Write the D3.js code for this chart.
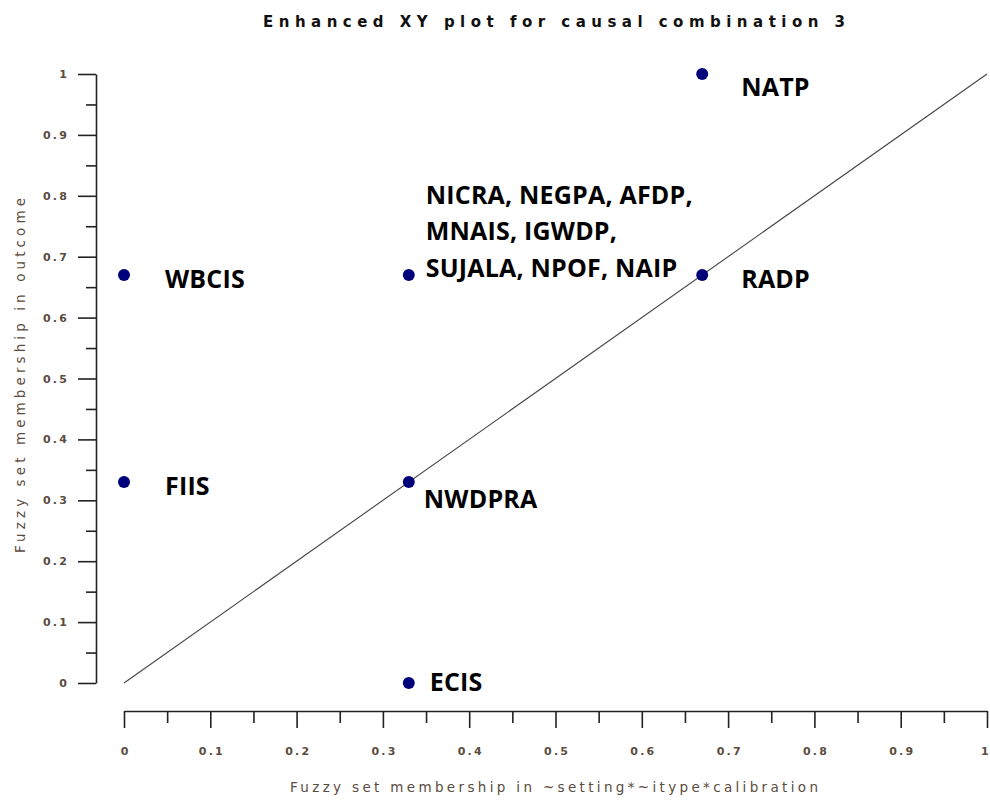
<!DOCTYPE html>
<html>
<head>
<meta charset="utf-8">
<script src="https://cdn.jsdelivr.net/npm/d3@7"></script>
<style>
  html, body { margin: 0; padding: 0; background: #fff; }
  svg { display: block; }
</style>
</head>
<body>
<svg id="chart" width="990" height="802"></svg>
<script>
// Cases and their fuzzy-set memberships
const caseLabels = [
  ["WBCIS"],
  ["FIIS"],
  ["NICRA, NEGPA, AFDP,", "MNAIS, IGWDP,", "SUJALA, NPOF, NAIP"],
  ["NWDPRA"],
  ["ECIS"],
  ["NATP"],
  ["RADP"]
];
const conditionValues = [0, 0, 0.33, 0.33, 0.33, 0.67, 0.67];
const outcomeValues   = [0.67, 0.33, 0.67, 0.33, 0, 1, 0.67];

const majorTicks = [0, 0.1, 0.2, 0.3, 0.4, 0.5, 0.6, 0.7, 0.8, 0.9, 1];
const minorTicks = [0.05, 0.15, 0.25, 0.35, 0.45, 0.55, 0.65, 0.75, 0.85, 0.95];

const titleText = "Enhanced XY plot for causal combination 3";
const xTitleText = "Fuzzy set membership in ~setting*~itype*calibration";
const yTitleText = "Fuzzy set membership in outcome";

// Label placement relative to each dot (dx, dy of first baseline)
const labelOffsets = [
  [41, 13], [41, 13], [17, -71], [15, 26], [21, 8], [39, 22], [39, 13]
];

const svg = d3.select("#chart");
const x = d3.scaleLinear().domain([0, 1]).range([124, 987]);
const y = d3.scaleLinear().domain([0, 1]).range([683, 74]);

const axisColor = "#222";
const textColor = "#5a4c40";
const tickFont = "DejaVu Sans, Verdana, sans-serif";
const fmt = d => d === 0 || d === 1 ? d3.format("d")(d) : d3.format(".1f")(d);

// Y axis: vertical line at x=96, ticks pointing left
const yAxisX = 96;
const gy = svg.append("g").attr("transform", `translate(${yAxisX},0)`);
gy.call(d3.axisLeft(y).tickValues(majorTicks).tickSize(18).tickSizeOuter(0).tickFormat(fmt));
gy.append("g").call(d3.axisLeft(y).tickValues(minorTicks).tickSize(10).tickFormat(""))
  .select(".domain").remove();

// X axis: horizontal line at y=711, ticks pointing down
const xAxisY = 711;
const gx = svg.append("g").attr("transform", `translate(0,${xAxisY})`);
gx.call(d3.axisBottom(x).tickValues(majorTicks).tickSize(17).tickSizeOuter(0).tickFormat(fmt));
gx.append("g").call(d3.axisBottom(x).tickValues(minorTicks).tickSize(12).tickFormat(""))
  .select(".domain").remove();

svg.selectAll(".domain, .tick line").attr("stroke", axisColor).attr("stroke-width", 1.6);
svg.selectAll(".tick text")
  .attr("fill", textColor)
  .attr("font-family", tickFont)
  .attr("font-weight", "bold")
  .attr("font-size", 11)
  .attr("letter-spacing", 2.2);
gy.selectAll(".tick text").attr("x", -27);
gx.selectAll(".tick text").attr("y", 36).attr("dx", 1.1);
// keep the last x label inside the frame
gx.selectAll(".tick text").filter(d => d === 1).attr("dx", -1.5);

// Diagonal reference line
svg.append("line")
  .attr("x1", x(0)).attr("y1", y(0))
  .attr("x2", x(1)).attr("y2", y(1))
  .attr("stroke", "#444").attr("stroke-width", 1.1);

// Case dots
const cases = caseLabels.map((lines, i) => ({
  lines, cx: conditionValues[i], cy: outcomeValues[i], off: labelOffsets[i]
}));

svg.append("g").selectAll("circle").data(cases).join("circle")
  .attr("cx", d => x(d.cx)).attr("cy", d => y(d.cy))
  .attr("r", 6).attr("fill", "#00007a");

// Case labels
const labels = svg.append("g").selectAll("text").data(cases).join("text")
  .attr("x", d => x(d.cx) + d.off[0])
  .attr("y", d => y(d.cy) + d.off[1])
  .attr("font-family", "Open Sans, Lato, sans-serif")
  .attr("font-weight", "bold")
  .attr("font-size", 25)
  .attr("letter-spacing", 0.2)
  .attr("fill", "#000");
labels.selectAll("tspan").data(d => d.lines.map(t => ({ t, x: x(d.cx) + d.off[0] }))).join("tspan")
  .attr("x", t => t.x)
  .attr("dy", (t, i) => i === 0 ? 0 : 36.5)
  .text(t => t.t);

// Titles
svg.append("text")
  .attr("x", 263).attr("y", 27)
  .attr("textLength", 582).attr("lengthAdjust", "spacing")
  .attr("font-family", tickFont)
  .attr("font-weight", "bold")
  .attr("font-size", 15)
  .attr("fill", "#111")
  .text(titleText);

svg.append("text")
  .attr("x", 290).attr("y", 792)
  .attr("textLength", 528).attr("lengthAdjust", "spacing")
  .attr("font-family", tickFont)
  .attr("font-size", 13.5)
  .attr("fill", textColor)
  .text(xTitleText);

svg.append("text")
  .attr("transform", "translate(25,553) rotate(-90)")
  .attr("textLength", 355).attr("lengthAdjust", "spacing")
  .attr("font-family", tickFont)
  .attr("font-size", 13.5)
  .attr("fill", textColor)
  .text(yTitleText);
</script>
</body>
</html>
